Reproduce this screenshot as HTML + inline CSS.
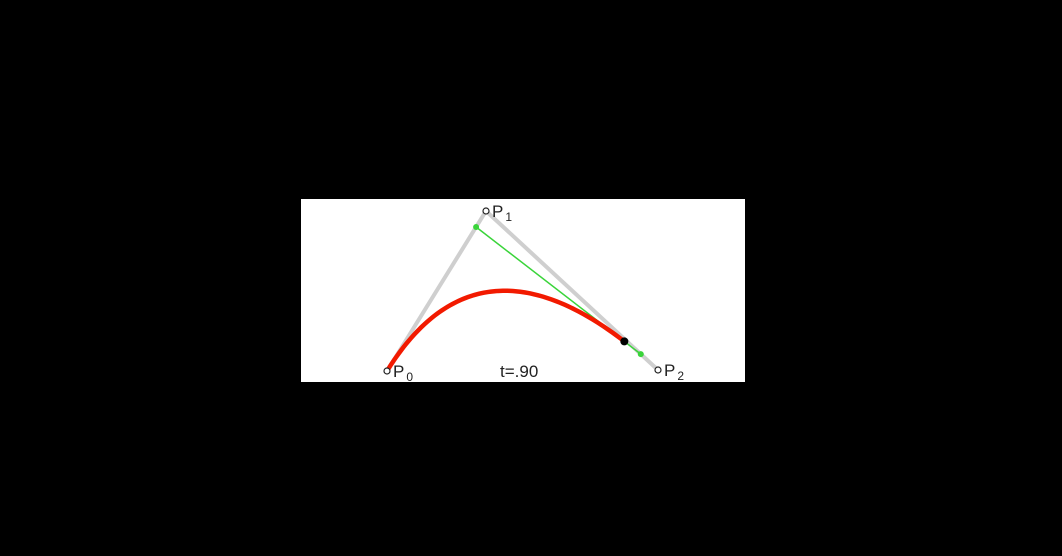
<!DOCTYPE html>
<html><head><meta charset="utf-8"><style>
html,body{margin:0;padding:0;background:#000;width:1062px;height:556px;overflow:hidden}
svg{display:block}
text{font-family:"Liberation Sans",sans-serif;fill:#222}
</style></head><body>
<svg id="c" width="1062" height="556">
<rect x="301" y="199" width="444" height="183" fill="#fff"/>
</svg>
<script>
const pointNames = ["P0","P1","P2"];
const pointX = [387, 486, 658];
const pointY = [371, 211, 370];
const tValue = [0.9];
const tLabel = ["t=.90"];
const NS="http://www.w3.org/2000/svg";
const svg=document.getElementById('c');
function mk(tag,attrs,name){const e=document.createElementNS(NS,tag);for(const k in attrs)e.setAttribute(k,attrs[k]);


svg.appendChild(e);return e;}
const lerp=(a,b,t)=>a+(b-a)*t;
const t=tValue[0];
// control polygon
mk('polyline',{points:pointX.map((x,i)=>x+','+pointY[i]).join(' '),fill:'none',stroke:'#cfcfcf','stroke-width':4},'control-polygon');
// intermediate
const ax=lerp(pointX[0],pointX[1],t),ay=lerp(pointY[0],pointY[1],t);
const bx=lerp(pointX[1],pointX[2],t),by=lerp(pointY[1],pointY[2],t);
mk('line',{x1:ax,y1:ay,x2:bx,y2:by,stroke:'#3ad43a','stroke-width':1.5},'green-segment');
// curve
let pts=[];
for(let i=0;i<=100;i++){const s=t*i/100;
const x=(1-s)*(1-s)*pointX[0]+2*(1-s)*s*pointX[1]+s*s*pointX[2];
const y=(1-s)*(1-s)*pointY[0]+2*(1-s)*s*pointY[1]+s*s*pointY[2];pts.push(x.toFixed(2)+','+y.toFixed(2));}
mk('polyline',{points:pts.join(' '),fill:'none',stroke:'#f21a00','stroke-width':4.5,'stroke-linecap':'round'},'bezier-curve');
mk('circle',{cx:ax,cy:ay,r:3,fill:'#3ad43a'},'green-point-a');
mk('circle',{cx:bx,cy:by,r:3,fill:'#3ad43a'},'green-point-b');
mk('circle',{cx:lerp(ax,bx,t),cy:lerp(ay,by,t),r:4,fill:'#000'},'curve-point');
pointNames.forEach((n,i)=>{
  mk('circle',{cx:pointX[i],cy:pointY[i],r:3,fill:'#fff',stroke:'#222','stroke-width':1.2},'control-point-'+n.toLowerCase());
  const tx=mk('text',{x:pointX[i]+6,y:pointY[i]+6,'font-size':17},'label-'+n.toLowerCase());
  tx.textContent='P';
  const sub=document.createElementNS(NS,'tspan');sub.setAttribute('font-size',12);sub.setAttribute('dy',4);sub.setAttribute('dx',2);sub.textContent=n.slice(1);tx.appendChild(sub);
});
const tl=mk('text',{x:500,y:377,'font-size':17},'t-label');tl.textContent=tLabel[0];
</script>
</body></html>
